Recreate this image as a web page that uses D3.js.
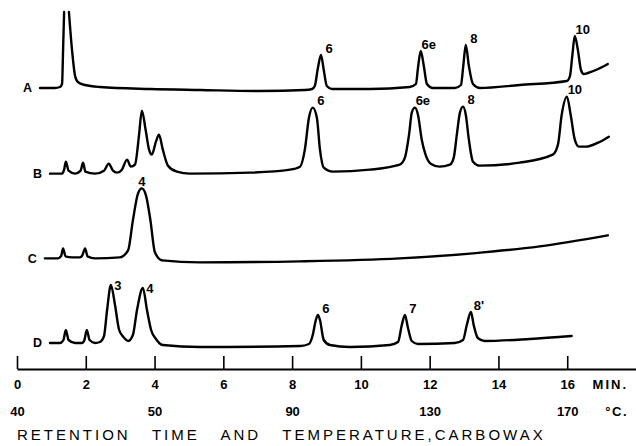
<!DOCTYPE html>
<html>
<head>
<meta charset="utf-8">
<script src="https://cdn.jsdelivr.net/npm/d3@7"></script>
<style>
  body { margin: 0; background: #fff; }
  svg { display: block; }
  text { font-family: "Liberation Sans", Arial, sans-serif; fill: #000; }
</style>
</head>
<body>
<div id="wrapper"></div>
<script>
// chromatogram traces: [retention time (min), detector response (arb. units)]
// null = pen off scale (top of clipped peak)
const traceNames = ["A", "B", "C", "D"]

const traceA = [[0.67,0],[1.10,0],[1.25,1],[1.31,4],[1.34,38],[1.37,76],null,[1.51,76],[1.60,38],[1.69,12],
  [1.77,6],[1.98,3],[2.41,1],[3.87,-1],[5.32,-2],[7.06,-3],[8.37,-2],[8.58,-1],[8.66,2],[8.75,20],[8.84,33],
  [8.92,18],[9.01,2],[9.16,-1],[10.26,-1],[11.42,1],[11.60,4],[11.66,20],[11.74,37],[11.83,22],[11.92,4],
  [12.09,0],[12.73,0],[12.91,3],[12.98,23],[13.05,43],[13.14,22],[13.26,4],[13.46,0],[14.62,3],[15.99,7],
  [16.08,12],[16.15,33],[16.22,52],[16.31,38],[16.40,18],[16.48,14],[16.60,15],[16.90,19],[17.18,24]]

const traceB = [[0.96,-1],[1.31,-1],[1.37,3],[1.42,11],[1.50,2],[1.69,-1],[1.85,2],[1.92,10],[1.99,1],
  [2.27,-1],[2.53,2],[2.67,9],[2.79,2],[2.91,0],[3.05,3],[3.20,13],[3.31,6],[3.43,8],[3.55,38],[3.63,62],
  [3.74,43],[3.84,23],[3.92,18],[4.04,31],[4.13,38],[4.24,23],[4.39,7],[4.65,1],[5.03,-1],[6.77,0],[7.94,3],
  [8.23,6],[8.37,23],[8.49,55],[8.60,65],[8.72,55],[8.81,23],[8.92,5],[9.19,1],[10.26,3],[11.13,8],
  [11.28,15],[11.40,38],[11.48,60],[11.57,65],[11.66,58],[11.77,33],[11.88,18],[12.03,9],[12.29,6],
  [12.59,8],[12.70,15],[12.79,38],[12.88,60],[12.97,66],[13.05,58],[13.14,33],[13.26,11],[13.46,7],
  [14.62,10],[15.58,18],[15.73,28],[15.84,58],[15.99,76],[16.10,58],[16.22,33],[16.34,26],[16.55,26],
  [16.90,30],[17.21,36]]

const traceC = [[0.81,-1],[1.19,-1],[1.28,1],[1.34,9],[1.41,1],[1.60,0],[1.83,0],[1.90,2],[1.98,9],[2.05,1],
  [2.27,-1],[2.99,0],[3.23,7],[3.37,37],[3.52,64],[3.63,69],[3.75,62],[3.88,37],[4.01,5],[4.22,-3],
  [5.32,-5],[8.23,-4],[11.13,-1],[13.26,4],[15.20,11],[17.18,22]]

const traceD = [[0.96,-1],[1.25,-1],[1.35,2],[1.42,12],[1.50,2],[1.69,-1],[1.89,-1],[1.96,2],[2.03,12],
  [2.11,2],[2.27,-1],[2.41,0],[2.53,6],[2.62,32],[2.73,57],[2.85,37],[2.97,12],[3.12,4],[3.23,1],[3.37,7],
  [3.49,32],[3.66,54],[3.78,32],[3.90,12],[4.04,3],[4.24,-3],[5.32,-5],[8.23,-4],[8.49,-2],[8.60,7],
  [8.69,22],[8.75,27],[8.81,22],[8.92,2],[9.10,-3],[9.68,-5],[10.84,-3],[11.08,0],[11.19,17],[11.28,27],
  [11.37,14],[11.48,1],[11.66,-2],[12.73,-1],[12.97,2],[13.08,17],[13.20,30],[13.28,17],[13.40,4],
  [13.60,1],[14.91,3],[16.13,6]]

// peak labels: [text, time, apex response, placement]
const labelsA = [["6",8.84,33,"ur"],["6e",11.74,37,"ur"],["8",13.05,43,"ur"],["10",16.22,52,"ur"]]
const labelsB = [["6",8.60,65,"ur"],["6e",11.57,65,"ur"],["8",12.97,66,"ur"],["10",15.99,76,"ur"]]
const labelsC = [["4",3.63,69,"u"]]
const labelsD = [["3",2.73,57,"r"],["4",3.66,54,"r"],["6",8.75,27,"ur"],["7",11.28,27,"ur"],["8'",13.20,30,"ur"]]

// axis
const minTicks = [0,2,4,6,8,10,12,14,16]
const tempTicks = [0,4,8,12,16]
const tempLabels = ["40","50","90","130","170"]
const title = "RETENTION   TIME   AND   TEMPERATURE,CARBOWAX"

const traceData = { A: traceA, B: traceB, C: traceC, D: traceD }
const labelData = { A: labelsA, B: labelsB, C: labelsC, D: labelsD }

const dim = { width: 636, height: 446, axisY: 369 }

const svg = d3.select("#wrapper").append("svg")
  .attr("width", dim.width)
  .attr("height", dim.height)

// scales
const x = d3.scaleLinear().domain([0, 18]).range([17, 636])
const rowY = d3.scalePoint().domain(traceNames).range([88, 342])
const resp = d3.scaleLinear().domain([0, 100]).range([0, -100])

const line = d3.line()
  .defined(d => d != null)
  .x(d => x(d[0]))
  .y(d => resp(d[1]))
  .curve(d3.curveMonotoneX)

const offsets = { ur: [8, -7], u: [0, -7], r: [7, 0] }

traceNames.forEach(name => {
  const data = traceData[name]
  const g = svg.append("g").attr("transform", `translate(0,${rowY(name)})`)

  g.append("path")
    .datum(data)
    .attr("d", line)
    .attr("fill", "none")
    .attr("stroke", "#000")
    .attr("stroke-width", 2.4)
    .attr("stroke-linejoin", "round")
    .attr("stroke-linecap", "round")

  // trace letter
  g.append("text")
    .attr("x", x(data[0][0]) - 8)
    .attr("y", resp(data[0][1]))
    .attr("dy", "0.35em")
    .attr("text-anchor", "end")
    .attr("font-size", 12.5)
    .attr("font-weight", "bold")
    .text(name)

  // peak labels
  g.selectAll("text.peak")
    .data(labelData[name])
    .join("text")
    .attr("class", "peak")
    .attr("x", d => x(d[1]) + offsets[d[3]][0])
    .attr("y", d => resp(d[2]) + offsets[d[3]][1])
    .attr("dy", "0.35em")
    .attr("text-anchor", "middle")
    .attr("font-size", 13)
    .attr("font-weight", "bold")
    .text(d => d[0])
})

// time axis
const axisG = svg.append("g")
  .attr("transform", `translate(0,${dim.axisY})`)
  .call(d3.axisBottom(x)
    .tickValues(minTicks)
    .tickSizeInner(-13)
    .tickSizeOuter(0)
    .tickPadding(11)
    .tickFormat(d3.format("d")))
axisG.select(".domain").attr("stroke-width", 2)
axisG.selectAll(".tick line").attr("stroke-width", 1.6)
axisG.selectAll("text")
  .attr("font-size", 13)
  .attr("font-weight", "bold")
  .attr("font-family", null)

// temperature row
const tempG = svg.append("g")
  .attr("transform", `translate(0,${dim.axisY})`)
  .call(d3.axisBottom(x)
    .tickValues(tempTicks)
    .tickSize(0)
    .tickPadding(38)
    .tickFormat((d, i) => tempLabels[i]))
tempG.select(".domain").remove()
tempG.selectAll("text")
  .attr("font-size", 13)
  .attr("font-weight", "bold")
  .attr("font-family", null)

// unit labels
const unitX = x.range()[1] - 8
svg.append("text")
  .attr("x", unitX)
  .attr("y", dim.axisY + 20)
  .attr("text-anchor", "end")
  .attr("font-size", 13)
  .attr("font-weight", "bold")
  .attr("letter-spacing", 2)
  .text("MIN.")
svg.append("text")
  .attr("x", unitX)
  .attr("y", dim.axisY + 47)
  .attr("text-anchor", "end")
  .attr("font-size", 13)
  .attr("font-weight", "bold")
  .attr("letter-spacing", 1.5)
  .text("°C.")

// title
svg.append("text")
  .attr("x", 17)
  .attr("y", 440)
  .attr("font-size", 15)
  .attr("letter-spacing", 3.0)
  .style("white-space", "pre")
  .text(title)
</script>
</body>
</html>
